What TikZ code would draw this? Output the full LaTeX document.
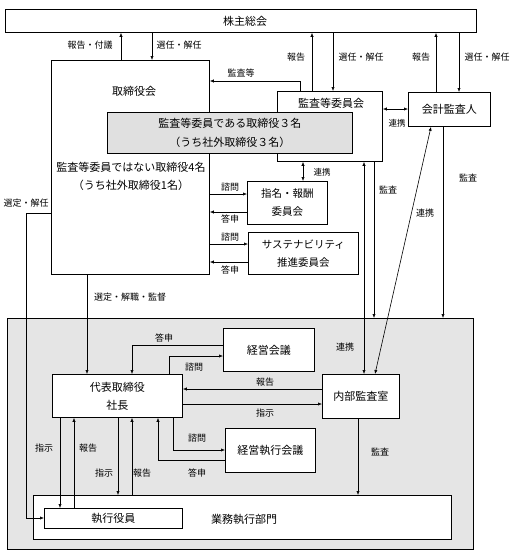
\documentclass[tikz,border=0pt]{standalone}
\usepackage{fontspec}
\setmainfont{Noto Sans CJK JP}
\usetikzlibrary{arrows.meta,calc}
\begin{document}
\begin{tikzpicture}[x=1pt,y=-1pt,
  box/.style={draw, line width=0.8pt, fill=white, inner sep=0pt, anchor=north west, align=center},
  arr/.style={-{Latex[length=4pt,width=3.2pt]}, line width=0.6pt},
  darr/.style={{Latex[length=4pt,width=3.2pt]}-{Latex[length=4pt,width=3.2pt]}, line width=0.6pt},
  lbl/.style={font=\fontsize{9}{10}\selectfont, inner sep=0pt},
  slbl/.style={font=\fontsize{8.5}{9}\selectfont, inner sep=0pt},
  txt/.style={font=\fontsize{11}{18}\selectfont},
]
\useasboundingbox (0,0) rectangle (526,560);
\fill[white] (0,0) rectangle (526,560);

% execution region
\node[box, fill=black!10, minimum width=466pt, minimum height=231pt] (ex) at (7,318) {};

% boxes
\node[box, minimum width=471pt, minimum height=23pt] (sh) at (5,9) {};
\node[txt, inner sep=0pt] (shtx) at (245,21) {株主総会};
\node[box, minimum width=158pt, minimum height=214pt] (tb) at (51,60) {};
\node[box, minimum width=105pt, minimum height=70pt] (ac) at (277,91) {};
\node[txt, inner sep=0pt] (actx) at (331,103) {監査等委員会};
\node[box, txt, minimum width=82pt, minimum height=34pt] (ka) at (408,92) {会計監査人};
\node[box, fill=black!12, font=\fontsize{11}{19}\selectfont, minimum width=245pt, minimum height=41pt] (ga) at (107,112) {監査等委員である取締役３名\\（うち社外取締役３名）};
\node[txt, inner sep=0pt] (tbtx) at (134,91) {取締役会};
\node[txt, inner sep=0pt] (tbt2) at (131,167) {監査等委員ではない取締役4名};
\node[txt, inner sep=0pt] (tbt3) at (131,185) {（うち社外取締役1名）};
\node[box, font=\fontsize{10.5}{18}\selectfont, minimum width=80pt, minimum height=43pt] (nm) at (247,181) {指名・報酬\\委員会};
\node[box, font=\fontsize{10.5}{18}\selectfont, minimum width=110pt, minimum height=42pt] (su) at (248,232) {サステナビリティ\\推進委員会};

\node[box, txt, minimum width=130pt, minimum height=43pt] (dh) at (52,374) {代表取締役\\社長};
\node[box, txt, minimum width=91pt, minimum height=43pt] (kk) at (223,328) {経営会議};
\node[box, txt, minimum width=77pt, minimum height=44pt] (nb) at (322,374) {内部監査室};
\node[box, txt, minimum width=90pt, minimum height=44pt] (kj) at (225,428) {経営執行会議};
\node[box, minimum width=418pt, minimum height=44pt] (gb) at (33,495) {};
\node[txt, inner sep=0pt] (gbtx) at (244,519) {業務執行部門};
\node[box, txt, minimum width=138pt, minimum height=20pt] (sy) at (44,508) {執行役員};

% top connectors
\draw[arr] (tb.north -| 121,0) -- (sh.south -| 121,0);
\draw[arr] (sh.south -| 152,0) -- (tb.north -| 152,0);
\draw[arr] (ac.north -| 312,0) -- (sh.south -| 312,0);
\draw[arr] (sh.south -| 333,0) -- (ac.north -| 333,0);
\draw[arr] (ka.north -| 436,0) -- (sh.south -| 436,0);
\draw[arr] (sh.south -| 459,0) -- (ka.north -| 459,0);
\node[lbl] (l1) at (90,45) {報告・付議};
\node[lbl] (l2) at (179,45) {選任・解任};
\node[lbl] (l3) at (296,57) {報告};
\node[lbl] (l4) at (361,57) {選任・解任};
\node[lbl] (l5) at (421,57) {報告};
\node[lbl] (l6) at (487,57) {選任・解任};

\draw[arr] (ac.north -| 300,0) |- (tb.east |- 0,81);
\node[lbl] (l7) at (241,73) {監査等};
\draw[darr] (ac.east |- 0,109) -- (ka.west |- 0,109);
\node[slbl] (l8) at (397,123) {連携};
\draw[darr] (ac.south -| 303,0) -- (nm.north -| 303,0);
\node[slbl] (l9) at (322,172) {連携};

\draw[arr] (tb.east |- 0,194) -- (nm.west |- 0,194);
\draw[arr] (nm.west |- 0,212) -- (tb.east |- 0,212);
\draw[arr] (tb.east |- 0,244) -- (su.west |- 0,244);
\draw[arr] (su.west |- 0,262) -- (tb.east |- 0,262);
\node[lbl] (l10) at (230,187) {諮問};
\node[lbl] (l11) at (230,219) {答申};
\node[lbl] (l12) at (230,237) {諮問};
\node[lbl] (l13) at (230,270) {答申};

\draw[darr] (ac.south -| 364,0) -- (nb.north -| 364,0);
\node[lbl] (l14) at (345,347) {連携};
\draw[arr] (ac.south -| 374,0) -- (ex.north -| 374,0);
\node[lbl] (l15) at (388,190) {監査};
\draw[darr] (ka.south -| 431,0) -- (nb.north -| 375,0);
\node[lbl] (l16) at (425,213) {連携};
\draw[arr] (ka.south -| 443,0) -- (ex.north -| 443,0);
\node[lbl] (l17) at (468,178) {監査};

\draw[arr] (tb.west |- 0,213) -| (26,518) -- (sy.west |- 0,518);
\node[lbl] (l18) at (26,203) {選定・解任};
\draw[arr] (tb.south -| 87,0) -- (dh.north -| 87,0);
\node[lbl] (l19) at (130,297) {選定・解職・監督};

\draw[arr] (kk.west |- 0,345) -| (dh.north -| 132,0);
\node[lbl] (l20) at (164,338) {答申};
\draw[arr] (dh.north -| 169,0) |- (kk.west |- 0,356);
\node[lbl] (l21) at (194,367) {諮問};

\draw[arr] (nb.west |- 0,389) -- (dh.east |- 0,389);
\node[lbl] (l22) at (265,382) {報告};
\draw[arr] (dh.east |- 0,404) -- (nb.west |- 0,404);
\node[lbl] (l23) at (265,413) {指示};
\draw[arr] (nb.south -| 358,0) -- (gb.north -| 358,0);
\node[lbl] (l24) at (380,452) {監査};

\draw[arr] (dh.south -| 173,0) |- (kj.west |- 0,450);
\node[lbl] (l25) at (197,438) {諮問};
\draw[arr] (kj.west |- 0,460) -| (dh.south -| 158,0);
\node[lbl] (l26) at (197,473) {答申};

\draw[arr] (dh.south -| 60,0) -- (sy.north -| 60,0);
\node[lbl] (l27) at (44,448) {指示};
\draw[arr] (sy.north -| 74,0) -- (dh.south -| 74,0);
\node[lbl] (l28) at (88,448) {報告};
\draw[arr] (dh.south -| 118,0) -- (gb.north -| 118,0);
\node[lbl] (l29) at (104,473) {指示};
\draw[arr] (gb.north -| 132,0) -- (dh.south -| 132,0);
\node[lbl] (l30) at (142,473) {報告};
\end{tikzpicture}
\end{document}
